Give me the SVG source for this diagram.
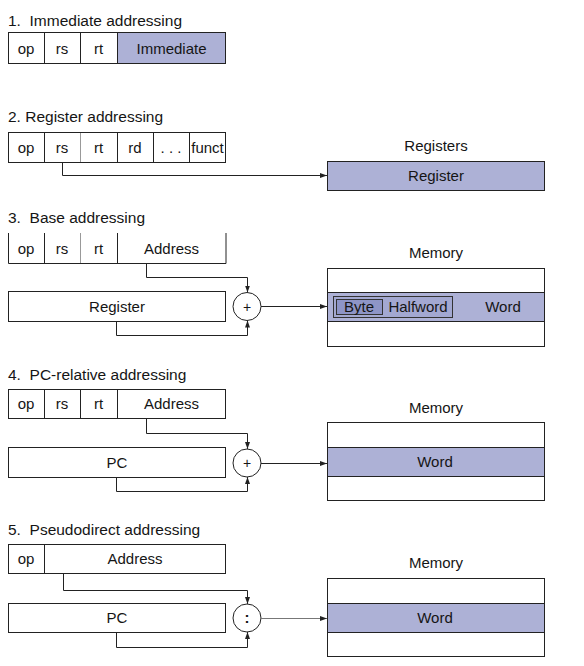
<svg xmlns="http://www.w3.org/2000/svg" width="584" height="666" viewBox="0 0 584 666">
<style>
text{font-family:"Liberation Sans",Arial,Helvetica,sans-serif;font-size:15px;fill:#151515}
.t{text-anchor:start;font-size:15.5px}
.c{text-anchor:middle}
.box{fill:#fff;stroke:#222;stroke-width:1}
.hl{fill:#adb1d6;stroke:#222;stroke-width:1}
.dv{stroke:#222;stroke-width:1;fill:none}
.lt{stroke:#999;stroke-width:1;fill:none}
.cn{fill:none;stroke:#222;stroke-width:1}
.cg{fill:none;stroke:#777;stroke-width:1}
</style>
<defs>
<marker id="ah" markerUnits="userSpaceOnUse" markerWidth="8" markerHeight="6" refX="7" refY="3" orient="auto">
<path d="M0,0.5 L7,3 L0,5.5 z" fill="#222"/>
</marker>
</defs>

<g id="titles">
<text class="t" x="8" y="26">1.&#160; Immediate addressing</text>
<text class="t" x="8" y="122">2. Register addressing</text>
<text class="t" x="8" y="223">3.&#160; Base addressing</text>
<text class="t" x="8" y="380">4.&#160; PC-relative addressing</text>
<text class="t" x="8" y="535">5.&#160; Pseudodirect addressing</text>
</g>

<g id="s1-instr">
<rect class="box" x="8.5" y="32.5" width="217" height="31"/>
<rect class="hl" x="117.5" y="32.5" width="108" height="31"/>
<path class="dv" d="M44.5,32.5V63.5M80.5,32.5V63.5"/>
<text class="c" x="26" y="53.5">op</text>
<text class="c" x="62" y="53.5">rs</text>
<text class="c" x="98.5" y="53.5">rt</text>
<text class="c" x="171.5" y="53.5">Immediate</text>
</g>

<g id="s2-instr">
<rect class="box" x="8.5" y="132.5" width="217" height="30"/>
<path class="dv" d="M44.5,132.5V162.5M117.5,132.5V162.5M153.5,132.5V162.5M189.5,132.5V162.5"/>
<path class="lt" d="M80.5,133V162"/>
<text class="c" x="26" y="153">op</text>
<text class="c" x="62" y="153">rs</text>
<text class="c" x="98.5" y="153">rt</text>
<text class="c" x="135" y="153">rd</text>
<text class="c" x="171" y="153">. . .</text>
<text class="c" x="207.5" y="153">funct</text>
</g>
<g id="s2-registers">
<text class="c" x="436" y="151">Registers</text>
<rect class="hl" x="327.5" y="161.5" width="217" height="29"/>
<text class="c" x="436" y="181">Register</text>
</g>

<g id="s3-instr">
<path class="dv" d="M8.5,233V263.5H226V233M44.5,233V263.5M117.5,233V263.5"/>
<path class="lt" d="M80.5,233V263"/>
<text class="c" x="26" y="254">op</text>
<text class="c" x="62" y="254">rs</text>
<text class="c" x="98.5" y="254">rt</text>
<text class="c" x="171.5" y="254">Address</text>
</g>
<g id="s3-register">
<rect class="box" x="8.5" y="291.5" width="217" height="30"/>
<text class="c" x="117" y="312">Register</text>
</g>
<g id="s3-adder">
<circle class="box" cx="247" cy="306.5" r="14"/>
<text class="c" x="247" y="311.5" style="font-size:14px">+</text>
</g>
<g id="s3-memory">
<text class="c" x="436" y="258">Memory</text>
<rect class="box" x="327.5" y="268.5" width="217" height="78"/>
<rect class="hl" x="327.5" y="292.5" width="217" height="29"/>
<rect x="333.5" y="296.5" width="119" height="21" fill="#a3a8d1" stroke="#333" stroke-width="1"/>
<rect x="336.5" y="299.5" width="46" height="15" fill="#8e95c7" stroke="#333" stroke-width="1"/>
<text class="c" x="359" y="312">Byte</text>
<text class="c" x="418" y="312">Halfword</text>
<text class="c" x="503" y="312">Word</text>
</g>

<g id="s4-instr">
<rect class="box" x="8.5" y="389.5" width="217" height="29"/>
<path class="dv" d="M44.5,389.5V418.5M80.5,389.5V418.5M117.5,389.5V418.5"/>
<text class="c" x="26" y="409">op</text>
<text class="c" x="62" y="409">rs</text>
<text class="c" x="98.5" y="409">rt</text>
<text class="c" x="171.5" y="409">Address</text>
</g>
<g id="s4-pc">
<rect class="box" x="8.5" y="447.5" width="217" height="30"/>
<text class="c" x="117" y="468">PC</text>
</g>
<g id="s4-adder">
<circle class="box" cx="247" cy="463" r="14"/>
<text class="c" x="247" y="468" style="font-size:14px">+</text>
</g>
<g id="s4-memory">
<text class="c" x="436" y="413">Memory</text>
<rect class="box" x="327.5" y="422.5" width="217" height="78"/>
<rect class="hl" x="327.5" y="447.5" width="217" height="29"/>
<text class="c" x="435" y="467">Word</text>
</g>

<g id="s5-instr">
<rect class="box" x="8.5" y="544.5" width="217" height="29"/>
<path class="dv" d="M44.5,544.5V573.5"/>
<text class="c" x="26" y="564">op</text>
<text class="c" x="135" y="564">Address</text>
</g>
<g id="s5-pc">
<rect class="box" x="8.5" y="603.5" width="217" height="29"/>
<text class="c" x="117" y="623">PC</text>
</g>
<g id="s5-concat">
<circle class="box" cx="247" cy="618" r="14"/>
<text class="c" x="247" y="623" style="font-size:15px;font-weight:bold">:</text>
</g>
<g id="s5-memory">
<text class="c" x="436" y="568">Memory</text>
<rect class="box" x="327.5" y="578.5" width="217" height="78"/>
<rect class="hl" x="327.5" y="603.5" width="217" height="29"/>
<text class="c" x="435" y="623">Word</text>
</g>

<g id="connectors">
<path class="cn" d="M62.5,162.5V175.5H327" marker-end="url(#ah)"/>
<path class="cn" d="M146.5,263.5V277.5H247.5V292.5" marker-end="url(#ah)"/>
<path class="cn" d="M116.5,321.5V335.5H247.5V320.5" marker-end="url(#ah)"/>
<path class="cn" d="M261,306.5H327" marker-end="url(#ah)"/>
<path class="cn" d="M146.5,418.5V433.5H247.5V449" marker-end="url(#ah)"/>
<path class="cn" d="M116.5,477.5V491.5H247.5V477" marker-end="url(#ah)"/>
<path class="cn" d="M261,463.5H327" marker-end="url(#ah)"/>
<path class="cn" d="M63.5,573.5V590.5H247.5V604" marker-end="url(#ah)"/>
<path class="cn" d="M116.5,632.5V647.5H247.5V632" marker-end="url(#ah)"/>
<path class="cg" d="M261,618.5H327" marker-end="url(#ah)"/>
</g>
</svg>
